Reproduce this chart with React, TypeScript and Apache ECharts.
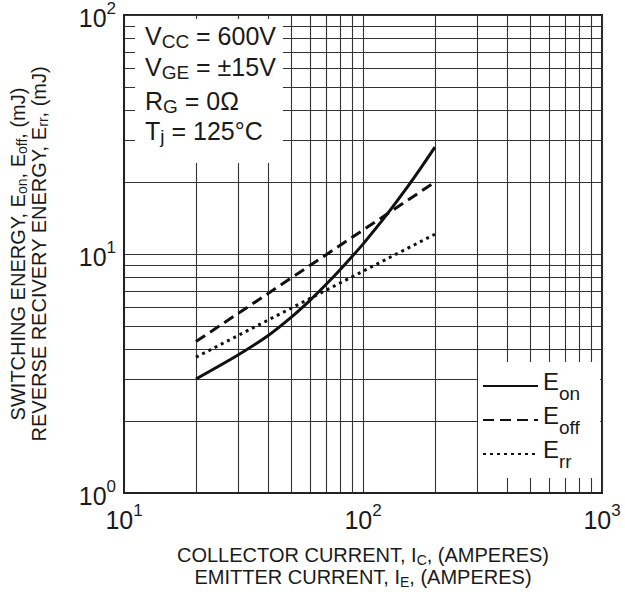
import React, { useEffect, useRef } from "react";
import * as echarts from "echarts";

// ---- data ----
const xMin = 10;
const xMax = 1000;
const yMin = 1;
const yMax = 100;

const eonCurrent = [20, 30, 40, 50, 60, 70, 80, 90, 100, 125, 150, 175, 200];
const eonEnergy = [3.0, 3.78, 4.55, 5.43, 6.4, 7.45, 8.57, 9.76, 11.0, 14.5, 18.5, 23.0, 28];

const eoffCurrent = [20, 200];
const eoffEnergy = [4.3, 20];

const errCurrent = [20, 200];
const errEnergy = [3.7, 12.1];

const xMinorGrid = [20, 30, 40, 50, 60, 70, 80, 90, 200, 300, 400, 500, 600, 700, 800, 900];
const yMinorGrid = [2, 3, 4, 5, 6, 7, 8, 9, 20, 30, 40, 50, 60, 70, 80, 90];

const seriesNames = ["Eon", "Eoff", "Err"];

const conditions: [string, string, string][] = [
  ["V", "CC", " = 600V"],
  ["V", "GE", " = \u00B115V"],
  ["R", "G", " = 0\u03A9"],
  ["T", "j", " = 125\u00B0C"],
];

const xTitle = [
  ["COLLECTOR CURRENT, I", "C", ", (AMPERES)"],
  ["EMITTER CURRENT, I", "E", ", (AMPERES)"],
];

const FONT = "'Liberation Sans', Arial, Helvetica, sans-serif";
const INK = "#1a1a1a";
const GRID = "#333333";

function pairs(xs: number[], ys: number[]) {
  return xs.map((x, i) => [x, ys[i]]);
}

export default function App() {
  const ref = useRef<HTMLDivElement>(null);

  useEffect(() => {
    if (!ref.current) return;
    const chart = echarts.init(ref.current, undefined, { renderer: "svg" });

    const subRich = (main: number, sub: number, lh: number, subLh: number) => ({
      m: { fontSize: main, fontFamily: FONT, color: INK, lineHeight: lh, verticalAlign: "top" },
      s: { fontSize: sub, fontFamily: FONT, color: INK, lineHeight: subLh, verticalAlign: "bottom" },
    });

    const supRich = {
      b: { fontSize: 25, fontFamily: FONT, color: INK, lineHeight: 30, verticalAlign: "bottom" },
      p: { fontSize: 17, fontFamily: FONT, color: INK, lineHeight: 12, verticalAlign: "top" },
    };
    const expLabel = (v: number) => `{b|10}{p|${Math.round(Math.log10(v))}}`;

    const yTitle =
      "{m|SWITCHING ENERGY, E}{s|on}{m|, E}{s|off}{m|, (mJ)}\n{m|REVERSE RECIVERY ENERGY, E}{s|rr}{m|, (mJ)}";
    const xTitleText = xTitle.map((l) => `{m|${l[0]}}{s|${l[1]}}{m|${l[2]}}`).join("\n");

    const condY = [37, 68, 102, 132];

    const option: any = {
      animation: false,
      backgroundColor: "#ffffff",
      grid: {
        left: 122,
        top: 13,
        width: 480,
        height: 480,
        show: true,
        borderColor: "#222",
        borderWidth: 2,
        backgroundColor: "transparent",
      },
      xAxis: {
        type: "log",
        logBase: 10,
        min: xMin,
        max: xMax,
        axisLine: { show: true, lineStyle: { color: "#222", width: 2 } },
        axisTick: { show: false },
        splitLine: { show: true, lineStyle: { color: GRID, width: 1.1 } },
        axisLabel: { formatter: expLabel, rich: supRich, margin: 9 },
        name: xTitleText,
        nameLocation: "middle",
        nameGap: 52,
        nameTextStyle: { rich: subRich(20, 14, 22, 12), align: "center" },
      },
      yAxis: {
        type: "log",
        logBase: 10,
        min: yMin,
        max: yMax,
        axisLine: { show: true, lineStyle: { color: "#222", width: 2 } },
        axisTick: { show: false },
        splitLine: { show: true, lineStyle: { color: GRID, width: 1.1 } },
        axisLabel: { formatter: expLabel, rich: supRich, margin: 8 },
        name: yTitle,
        nameLocation: "middle",
        nameRotate: 90,
        nameGap: 74,
        nameTextStyle: { rich: subRich(20, 14, 21, 11), align: "center" },
      },
      legend: {
        data: seriesNames,
        orient: "vertical",
        left: 478,
        top: 362,
        itemWidth: 55,
        itemHeight: 14,
        itemGap: 0,
        padding: [7, 20, 7, 4],
        backgroundColor: "#ffffff",
        borderWidth: 0,
        itemStyle: { opacity: 0, borderWidth: 0 },
        formatter: (n: string) => `{m|E}{s|${n.slice(1)}}`,
        textStyle: {
          rich: {
            m: { fontSize: 24, fontFamily: FONT, color: INK, lineHeight: 34, verticalAlign: "top" },
            s: { fontSize: 19, fontFamily: FONT, color: INK, lineHeight: 16, verticalAlign: "bottom" },
          },
        },
        z: 20,
      },
      series: [
        {
          name: "Eon",
          type: "line",
          data: pairs(eonCurrent, eonEnergy),
          smooth: 0.3,
          symbol: "none",
          itemStyle: { color: "#111" },
          lineStyle: { color: "#111", width: 3, type: "solid" },
          z: 5,
        },
        {
          name: "Eoff",
          type: "line",
          data: pairs(eoffCurrent, eoffEnergy),
          symbol: "none",
          itemStyle: { color: "#111" },
          lineStyle: { color: "#111", width: 3, type: [11, 6] },
          z: 5,
        },
        {
          name: "Err",
          type: "line",
          data: pairs(errCurrent, errEnergy),
          symbol: "none",
          itemStyle: { color: "#111" },
          lineStyle: { color: "#111", width: 3, type: [3, 4] },
          z: 5,
        },
        {
          name: "minor grid",
          type: "line",
          data: [],
          silent: true,
          markLine: {
            silent: true,
            symbol: ["none", "none"],
            label: { show: false },
            emphasis: { disabled: true },
            lineStyle: { color: GRID, width: 1.1, type: "solid" },
            z: 1,
            data: [
              ...xMinorGrid.map((v) => ({ xAxis: v })),
              ...yMinorGrid.map((v) => ({ yAxis: v })),
            ],
          },
        },
      ],
      graphic: [
        {
          type: "group",
          z: 50,
          children: [
            {
              type: "rect",
              shape: { x: 135, y: 19, width: 148, height: 144 },
              style: { fill: "#ffffff" },
              z: 50,
            },
            ...conditions.map((c, i) => ({
              type: "text",
              x: 145,
              y: condY[i],
              z: 51,
              style: {
                text: `{m|${c[0]}}{s|${c[1]}}{m|${c[2]}}`,
                align: "left",
                verticalAlign: "middle",
                rich: {
                  m: { fontSize: 25, fontFamily: FONT, fill: INK, lineHeight: 28, verticalAlign: "top" },
                  s: { fontSize: 19, fontFamily: FONT, fill: INK, lineHeight: 10, verticalAlign: "bottom" },
                },
              },
            })),
          ],
        },
      ],
    };

    chart.setOption(option);
    return () => chart.dispose();
  }, []);

  return (
    <div
      ref={ref}
      style={{ position: "fixed", left: 0, top: 0, width: 625, height: 594, background: "#fff" }}
    />
  );
}
